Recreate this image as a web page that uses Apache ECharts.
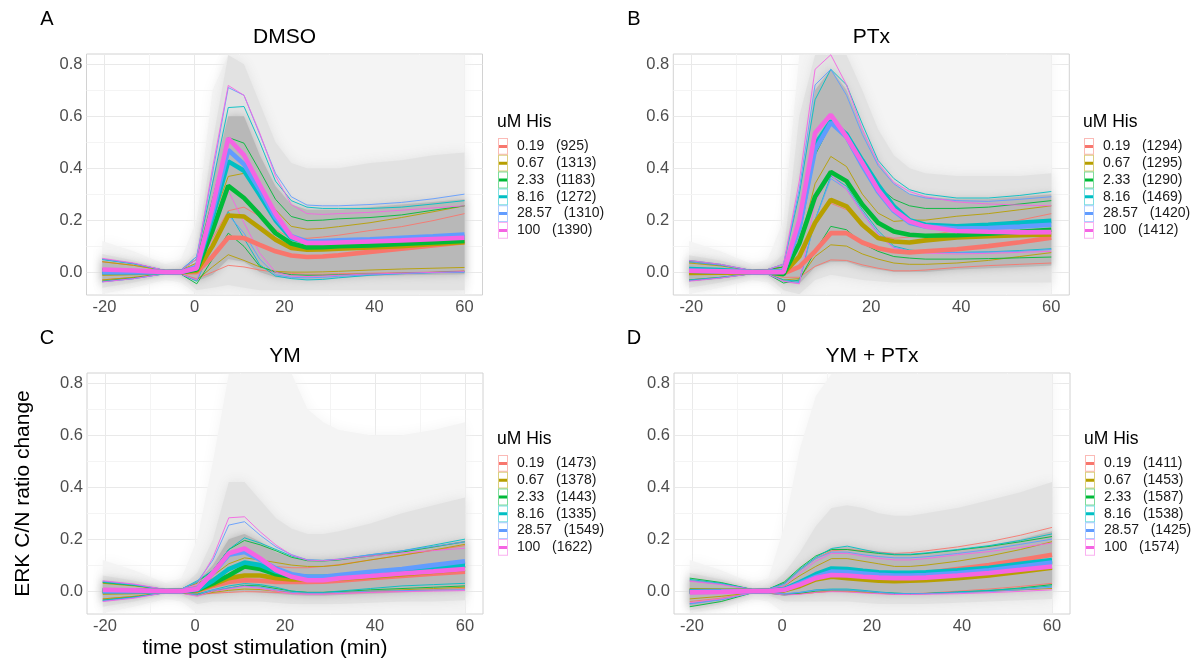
<!DOCTYPE html>
<html><head><meta charset="utf-8">
<script src="https://cdn.jsdelivr.net/npm/echarts@6/dist/echarts.min.js"></script>
<style>html,body{margin:0;padding:0;background:#fff}#c{width:1197px;height:662px}</style>
</head><body><div id="c"></div>
<script>
// ---------- DATA ----------
const T = [-20.5,-13.5,-6.5,-3,0.5,4,7.5,11,14.5,18,21.5,25,28.5,32,39,46,53,60];
const conc = ['0.19','0.67','2.33','8.16','28.57','100'];
const colors = ['#F8766D','#B79F00','#00BA38','#00BFC4','#619CFF','#F564E3'];
const titles = ['DMSO','PTx','YM','YM + PTx'];
const tags = ['A','B','C','D'];
const xTicks = [-20,0,20,40,60];
const yTicks = [0,0.2,0.4,0.6,0.8];
const nA = [925,1313,1183,1272,1310,1390];
const nB = [1294,1295,1290,1469,1420,1412];
const nC = [1473,1378,1443,1335,1549,1622];
const nD = [1411,1453,1587,1538,1425,1574];

const A_med = [
 [0.005,0.003,0,0,0.0,0.06,0.133,0.131,0.105,0.08,0.064,0.058,0.06,0.065,0.078,0.09,0.103,0.115],
 [-0.005,-0.003,0,0,0.005,0.1,0.218,0.214,0.17,0.125,0.093,0.086,0.087,0.09,0.095,0.1,0.108,0.115],
 [0.005,0.003,0,0,0.01,0.16,0.332,0.285,0.22,0.15,0.11,0.095,0.096,0.1,0.103,0.108,0.114,0.12],
 [0,0,0,0,0.015,0.21,0.426,0.39,0.297,0.2,0.13,0.115,0.115,0.117,0.12,0.125,0.13,0.135],
 [0,0,0,0,0.02,0.23,0.47,0.415,0.317,0.21,0.138,0.118,0.12,0.122,0.126,0.132,0.138,0.145],
 [0.01,0.006,0,0,0.015,0.25,0.515,0.45,0.336,0.225,0.137,0.112,0.112,0.114,0.118,0.122,0.127,0.132]];
const A_hi = [
 [0.04,0.026,0.006,0.008,0.02,0.13,0.236,0.25,0.214,0.163,0.13,0.13,0.135,0.142,0.16,0.175,0.198,0.225],
 [0.04,0.026,0.006,0.008,0.035,0.2,0.368,0.38,0.317,0.24,0.176,0.165,0.168,0.175,0.19,0.21,0.232,0.255],
 [0.05,0.033,0.006,0.008,0.05,0.28,0.518,0.496,0.39,0.28,0.214,0.198,0.2,0.205,0.21,0.22,0.238,0.255],
 [0.048,0.032,0.006,0.008,0.06,0.34,0.633,0.637,0.5,0.35,0.275,0.25,0.245,0.245,0.245,0.25,0.262,0.275],
 [0.05,0.033,0.006,0.008,0.06,0.38,0.71,0.68,0.53,0.38,0.29,0.258,0.255,0.255,0.26,0.268,0.282,0.3],
 [0.053,0.035,0.006,0.008,0.05,0.4,0.718,0.68,0.535,0.37,0.26,0.225,0.222,0.225,0.23,0.238,0.247,0.255]];
const A_lo = [
 [-0.03,-0.02,-0.006,-0.008,-0.025,0.0,0.026,0.02,0.008,0.0,-0.005,-0.008,-0.008,-0.006,-0.004,-0.002,0.0,0.005],
 [-0.03,-0.02,-0.006,-0.008,-0.03,0.02,0.067,0.045,0.02,0.003,0.0,0.0,0.001,0.003,0.008,0.012,0.015,0.018],
 [-0.035,-0.023,-0.006,-0.008,-0.045,0.05,0.15,0.099,0.022,0.0,-0.01,-0.012,-0.012,-0.01,-0.007,-0.004,-0.001,0.003],
 [-0.037,-0.025,-0.006,-0.008,-0.035,0.1,0.233,0.13,0.028,-0.015,-0.025,-0.03,-0.028,-0.022,-0.012,-0.006,-0.002,0.0],
 [-0.037,-0.025,-0.006,-0.008,-0.03,0.09,0.22,0.15,0.05,-0.01,-0.02,-0.022,-0.02,-0.016,-0.01,-0.006,-0.002,0.0],
 [-0.038,-0.025,-0.006,-0.008,-0.03,0.14,0.314,0.19,0.073,0.0,-0.015,-0.017,-0.015,-0.012,-0.007,-0.004,-0.001,0.002]];

const B_med = [
 [0,0,0,0,-0.005,0.02,0.08,0.15,0.15,0.114,0.092,0.08,0.076,0.08,0.088,0.1,0.115,0.132],
 [-0.003,-0.002,0,0,-0.005,0.06,0.19,0.278,0.253,0.182,0.131,0.118,0.114,0.122,0.133,0.138,0.142,0.145],
 [0.005,0.003,0,0,-0.008,0.11,0.29,0.385,0.35,0.26,0.19,0.156,0.144,0.14,0.142,0.148,0.155,0.163],
 [0.012,0.008,0,0,0.005,0.17,0.49,0.58,0.53,0.43,0.336,0.253,0.2,0.182,0.176,0.182,0.19,0.197],
 [0.005,0.003,0,0,0.003,0.17,0.47,0.575,0.52,0.41,0.31,0.235,0.19,0.175,0.168,0.17,0.175,0.182],
 [0.005,0.003,0,0,0,0.2,0.535,0.605,0.52,0.42,0.317,0.24,0.195,0.176,0.158,0.155,0.153,0.154]];
const B_hi = [
 [0.04,0.027,0.006,0.01,0.02,0.06,0.2,0.265,0.24,0.18,0.14,0.13,0.135,0.14,0.16,0.18,0.2,0.225],
 [0.035,0.024,0.006,0.01,0.02,0.1,0.34,0.445,0.406,0.3,0.227,0.195,0.2,0.2,0.215,0.225,0.24,0.255],
 [0.04,0.027,0.006,0.01,0.02,0.17,0.45,0.57,0.53,0.42,0.33,0.28,0.255,0.245,0.245,0.25,0.262,0.275],
 [0.045,0.03,0.006,0.01,0.03,0.3,0.663,0.78,0.72,0.57,0.43,0.36,0.317,0.3,0.285,0.285,0.295,0.31],
 [0.04,0.027,0.006,0.01,0.03,0.32,0.72,0.78,0.68,0.53,0.41,0.34,0.3,0.285,0.275,0.272,0.28,0.29],
 [0.045,0.03,0.006,0.01,0.03,0.35,0.78,0.836,0.72,0.55,0.42,0.345,0.31,0.29,0.27,0.262,0.258,0.255]];
const B_lo = [
 [-0.03,-0.02,-0.006,-0.008,-0.02,-0.02,0.022,0.047,0.045,0.028,0.015,0.005,0.005,0.008,0.018,0.025,0.03,0.035],
 [-0.03,-0.02,-0.006,-0.008,-0.03,-0.025,0.06,0.105,0.1,0.07,0.05,0.035,0.03,0.03,0.035,0.045,0.06,0.075],
 [-0.033,-0.022,-0.006,-0.008,-0.042,-0.03,0.08,0.176,0.163,0.11,0.08,0.06,0.054,0.05,0.05,0.052,0.055,0.058],
 [-0.03,-0.02,-0.006,-0.008,-0.03,-0.035,0.2,0.37,0.33,0.24,0.16,0.1,0.085,0.08,0.076,0.078,0.083,0.09],
 [-0.033,-0.022,-0.006,-0.008,-0.035,-0.04,0.2,0.36,0.32,0.23,0.15,0.095,0.082,0.078,0.075,0.077,0.08,0.087],
 [-0.035,-0.023,-0.006,-0.008,-0.035,-0.045,0.27,0.374,0.317,0.227,0.144,0.092,0.08,0.073,0.07,0.072,0.076,0.08]];

const C_med = [
 [0,0,0,0,0,0.02,0.035,0.042,0.04,0.035,0.035,0.035,0.036,0.04,0.05,0.058,0.067,0.075],
 [-0.005,-0.003,0,0,0.003,0.025,0.05,0.06,0.06,0.05,0.045,0.045,0.046,0.048,0.055,0.065,0.075,0.085],
 [0.003,0.002,0,0,0.005,0.03,0.06,0.095,0.085,0.065,0.055,0.05,0.05,0.053,0.063,0.075,0.088,0.1],
 [0,0,0,0,0.005,0.04,0.085,0.11,0.1,0.075,0.06,0.055,0.055,0.058,0.07,0.08,0.09,0.1],
 [0,0,0,0,0.01,0.07,0.14,0.151,0.12,0.087,0.065,0.055,0.055,0.062,0.074,0.085,0.1,0.115],
 [0.005,0.003,0,0,0.008,0.07,0.145,0.164,0.126,0.081,0.055,0.042,0.042,0.049,0.058,0.068,0.076,0.085]];
const C_hi = [
 [0.035,0.023,0.006,0.008,0.02,0.05,0.085,0.1,0.1,0.095,0.09,0.09,0.095,0.102,0.12,0.138,0.157,0.175],
 [0.03,0.02,0.006,0.008,0.03,0.06,0.105,0.128,0.12,0.11,0.1,0.095,0.095,0.1,0.12,0.138,0.158,0.18],
 [0.033,0.022,0.006,0.008,0.035,0.08,0.16,0.195,0.178,0.155,0.13,0.117,0.116,0.12,0.135,0.15,0.17,0.19],
 [0.035,0.023,0.006,0.008,0.04,0.08,0.16,0.205,0.185,0.16,0.135,0.12,0.118,0.122,0.14,0.155,0.177,0.2],
 [0.038,0.025,0.006,0.008,0.035,0.12,0.254,0.267,0.215,0.17,0.14,0.12,0.118,0.123,0.14,0.155,0.172,0.19],
 [0.04,0.027,0.006,0.008,0.025,0.13,0.282,0.286,0.228,0.177,0.138,0.119,0.117,0.122,0.135,0.147,0.156,0.165]];
const C_lo = [
 [-0.03,-0.02,-0.006,-0.008,-0.012,-0.008,-0.005,-0.002,-0.003,-0.005,-0.008,-0.01,-0.01,-0.008,-0.004,0,0.005,0.01],
 [-0.03,-0.02,-0.006,-0.008,-0.015,-0.005,0.003,0.008,0.006,0,-0.003,-0.005,-0.005,-0.003,0,0.005,0.01,0.015],
 [-0.035,-0.023,-0.006,-0.008,-0.012,0,0.012,0.022,0.02,0.01,0,-0.005,-0.005,-0.002,0.005,0.01,0.015,0.02],
 [-0.035,-0.023,-0.006,-0.008,-0.01,0.005,0.02,0.029,0.025,0.015,0,-0.005,-0.005,0,0.01,0.02,0.025,0.03],
 [-0.038,-0.025,-0.006,-0.008,-0.015,0.005,0.012,0.02,0.015,0.005,-0.005,-0.008,-0.008,-0.005,0,0.002,0.004,0.005],
 [-0.04,-0.027,-0.006,-0.008,-0.02,0,0.008,0.018,0.01,0,-0.01,-0.012,-0.012,-0.01,-0.005,-0.002,0,0.002]];

const D_med = [
 [0,0,0,0,0.005,0.03,0.055,0.07,0.07,0.067,0.065,0.065,0.066,0.07,0.085,0.1,0.12,0.14],
 [0,0,0,0,0.003,0.02,0.045,0.055,0.05,0.045,0.04,0.038,0.04,0.042,0.05,0.06,0.075,0.09],
 [0,0,0,0,0.005,0.03,0.06,0.08,0.078,0.072,0.067,0.065,0.065,0.067,0.075,0.085,0.1,0.115],
 [-0.002,-0.001,0,0,0.008,0.035,0.065,0.087,0.085,0.078,0.072,0.07,0.07,0.072,0.08,0.09,0.105,0.12],
 [-0.003,-0.002,0,0,0.005,0.03,0.055,0.075,0.073,0.068,0.063,0.06,0.06,0.062,0.07,0.08,0.095,0.11],
 [-0.005,-0.003,0,0,0.005,0.025,0.05,0.062,0.06,0.055,0.052,0.05,0.05,0.052,0.06,0.07,0.082,0.095]];
const D_hi = [
 [0.04,0.027,0.006,0.008,0.03,0.08,0.125,0.155,0.16,0.155,0.15,0.145,0.148,0.155,0.17,0.19,0.215,0.245],
 [0.01,0.007,0.006,0.008,0.02,0.06,0.095,0.125,0.125,0.115,0.105,0.095,0.095,0.1,0.115,0.135,0.16,0.19],
 [0.05,0.033,0.006,0.008,0.035,0.09,0.135,0.16,0.16,0.152,0.145,0.14,0.14,0.145,0.158,0.172,0.19,0.21],
 [0.045,0.03,0.006,0.008,0.03,0.085,0.13,0.164,0.173,0.16,0.148,0.142,0.142,0.147,0.16,0.175,0.195,0.22],
 [0.04,0.027,0.006,0.008,0.025,0.08,0.125,0.15,0.15,0.14,0.133,0.128,0.128,0.132,0.145,0.16,0.18,0.2],
 [0.038,0.025,0.006,0.008,0.02,0.07,0.115,0.145,0.145,0.135,0.126,0.12,0.12,0.125,0.14,0.152,0.168,0.185]];
const D_lo = [
 [-0.04,-0.027,-0.006,-0.008,-0.01,-0.01,-0.005,0,0,-0.003,-0.006,-0.01,-0.01,-0.008,0,0.008,0.018,0.03],
 [-0.03,-0.02,-0.006,-0.008,-0.012,-0.01,-0.005,0,-0.002,-0.005,-0.008,-0.012,-0.012,-0.01,-0.005,0,0.005,0.01],
 [-0.06,-0.04,-0.006,-0.008,-0.015,-0.008,0,0.005,0.004,0,-0.005,-0.008,-0.01,-0.009,-0.004,0.002,0.012,0.025],
 [-0.048,-0.032,-0.006,-0.008,-0.012,-0.005,0.005,0.008,0.008,0.003,-0.003,-0.008,-0.01,-0.009,-0.003,0.003,0.01,0.02],
 [-0.05,-0.033,-0.006,-0.008,-0.01,-0.005,0.003,0.005,0.004,0,-0.005,-0.01,-0.01,-0.01,-0.006,-0.002,0.005,0.015],
 [-0.045,-0.03,-0.006,-0.008,-0.015,-0.012,-0.005,-0.002,-0.003,-0.007,-0.01,-0.013,-0.013,-0.012,-0.01,-0.006,-0.001,0.005]];

// grey cloud of single-cell traces: envelopes (faint / light / core)
const A_faintHi = [0.12,0.08,0.03,0.05,0.2,0.7,0.835,0.835,0.835,0.835,0.835,0.835,0.835,0.835,0.835,0.835,0.835,0.835];
const A_faintLo = [-0.085,-0.06,-0.03,-0.04,-0.085,-0.085,-0.085,-0.085,-0.085,-0.085,-0.085,-0.085,-0.085,-0.085,-0.085,-0.085,-0.085,-0.085];
const A_lightHi = [0.07,0.045,0.012,0.015,0.08,0.5,0.835,0.8,0.65,0.5,0.42,0.4,0.4,0.4,0.42,0.43,0.45,0.46];
const A_lightLo = [-0.06,-0.04,-0.012,-0.015,-0.07,-0.06,-0.05,-0.06,-0.07,-0.07,-0.07,-0.07,-0.07,-0.07,-0.07,-0.07,-0.07,-0.07];
const A_coreHi = [0.045,0.03,0.006,0.008,0.04,0.35,0.6,0.6,0.45,0.33,0.26,0.24,0.24,0.24,0.25,0.26,0.27,0.28];
const A_coreLo = [-0.035,-0.024,-0.006,-0.008,-0.035,-0.01,0.05,0.04,0.0,-0.02,-0.025,-0.028,-0.026,-0.022,-0.015,-0.012,-0.01,-0.008];

const B_faintHi = [0.12,0.08,0.03,0.05,0.2,0.835,0.835,0.835,0.835,0.835,0.835,0.835,0.835,0.835,0.835,0.835,0.835,0.835];
const B_faintLo = [-0.085,-0.06,-0.03,-0.04,-0.085,-0.085,-0.085,-0.085,-0.085,-0.085,-0.085,-0.085,-0.085,-0.085,-0.085,-0.085,-0.085,-0.085];
const B_lightHi = [0.065,0.045,0.012,0.015,0.07,0.6,0.835,0.835,0.835,0.7,0.55,0.45,0.4,0.38,0.37,0.37,0.37,0.38];
const B_lightLo = [-0.06,-0.04,-0.012,-0.015,-0.07,-0.085,-0.03,-0.01,-0.02,-0.03,-0.035,-0.04,-0.04,-0.04,-0.04,-0.04,-0.04,-0.04];
const B_coreHi = [0.045,0.03,0.006,0.008,0.035,0.3,0.7,0.78,0.7,0.55,0.42,0.34,0.3,0.29,0.28,0.28,0.29,0.3];
const B_coreLo = [-0.035,-0.023,-0.006,-0.008,-0.04,-0.045,0.02,0.04,0.04,0.02,0.01,0,0,0,0.01,0.015,0.02,0.025];

const C_faintHi = [0.12,0.08,0.03,0.05,0.2,0.5,0.835,0.835,0.835,0.835,0.835,0.7,0.65,0.62,0.6,0.6,0.62,0.65];
const C_faintLo = [-0.085,-0.06,-0.03,-0.04,-0.085,-0.085,-0.085,-0.085,-0.085,-0.085,-0.085,-0.085,-0.085,-0.085,-0.085,-0.085,-0.085,-0.085];
const C_lightHi = [0.06,0.04,0.012,0.015,0.07,0.2,0.42,0.42,0.35,0.28,0.24,0.22,0.22,0.23,0.26,0.3,0.33,0.36];
const C_lightLo = [-0.06,-0.04,-0.012,-0.015,-0.05,-0.04,-0.04,-0.04,-0.04,-0.045,-0.05,-0.05,-0.05,-0.05,-0.045,-0.04,-0.04,-0.035];
const C_coreHi = [0.04,0.027,0.006,0.008,0.035,0.1,0.2,0.22,0.19,0.15,0.13,0.12,0.12,0.125,0.14,0.155,0.175,0.195];
const C_coreLo = [-0.035,-0.024,-0.006,-0.008,-0.02,-0.01,-0.005,0,-0.005,-0.01,-0.015,-0.018,-0.018,-0.015,-0.01,-0.005,0,0.005];

const D_faintHi = [0.12,0.08,0.03,0.05,0.25,0.55,0.75,0.835,0.835,0.835,0.835,0.835,0.835,0.835,0.835,0.835,0.835,0.835];
const D_faintLo = [-0.085,-0.065,-0.03,-0.04,-0.085,-0.085,-0.085,-0.085,-0.085,-0.085,-0.085,-0.085,-0.085,-0.085,-0.085,-0.085,-0.085,-0.085];
const D_lightHi = [0.07,0.045,0.012,0.015,0.07,0.15,0.25,0.32,0.33,0.32,0.3,0.29,0.29,0.3,0.32,0.35,0.38,0.42];
const D_lightLo = [-0.075,-0.05,-0.012,-0.015,-0.04,-0.04,-0.04,-0.04,-0.04,-0.045,-0.05,-0.05,-0.05,-0.05,-0.045,-0.04,-0.035,-0.03];
const D_coreHi = [0.05,0.033,0.006,0.008,0.035,0.085,0.13,0.165,0.17,0.16,0.148,0.142,0.142,0.147,0.16,0.175,0.2,0.23];
const D_coreLo = [-0.06,-0.04,-0.006,-0.008,-0.015,-0.01,-0.005,0,-0.002,-0.006,-0.01,-0.013,-0.013,-0.012,-0.008,-0.004,0.003,0.01];

// ---------- LAYOUT / STYLE ----------
const F = '"Liberation Sans", Arial, Helvetica, sans-serif';
const panels = [
  {med:A_med, hi:A_hi, lo:A_lo, n:nA, bands:[[A_faintLo,A_faintHi],[A_lightLo,A_lightHi],[A_coreLo,A_coreHi]]},
  {med:B_med, hi:B_hi, lo:B_lo, n:nB, bands:[[B_faintLo,B_faintHi],[B_lightLo,B_lightHi],[B_coreLo,B_coreHi]]},
  {med:C_med, hi:C_hi, lo:C_lo, n:nC, bands:[[C_faintLo,C_faintHi],[C_lightLo,C_lightHi],[C_coreLo,C_coreHi]]},
  {med:D_med, hi:D_hi, lo:D_lo, n:nD, bands:[[D_faintLo,D_faintHi],[D_lightLo,D_lightHi],[D_coreLo,D_coreHi]]}
];
const bandColors = ['#f4f4f4','#e2e2e2','#b8b8b8'];
const bandBlur = [14, 12, 8];
const gLeft = [86.5, 673.3, 87, 674];
const gTop = [54, 54, 373, 373];
const gW = 396, gH = 241;
const legLeft = [498, 1084, 498, 1085];
const legTop = [138, 138, 455, 455];
const XMIN = -24, XMAX = 64, YMIN = -0.088, YMAX = 0.839;

const grids = [], xAxes = [], yAxes = [], series = [], legends = [], graphics = [];

panels.forEach((p, gi) => {
  grids.push({left:gLeft[gi], top:gTop[gi], width:gW, height:gH, show:true,
    backgroundColor:'#ffffff', borderColor:'#d2d2d2', borderWidth:1, containLabel:false});
  xAxes.push({gridIndex:gi, type:'value', min:XMIN, max:XMAX,
    axisLine:{show:false}, splitLine:{show:false},
    axisTick:{show:true, length:3, lineStyle:{color:'#b3b3b3'}, customValues:xTicks},
    axisLabel:{customValues:xTicks, color:'#4d4d4d', fontSize:16.5, fontFamily:F, margin:4,
      formatter:v=>String(v)}});
  yAxes.push({gridIndex:gi, type:'value', min:YMIN, max:YMAX,
    axisLine:{show:false}, splitLine:{show:false},
    axisTick:{show:true, length:3, lineStyle:{color:'#b3b3b3'}, customValues:yTicks},
    axisLabel:{customValues:yTicks, color:'#4d4d4d', fontSize:16.5, fontFamily:F, margin:4,
      formatter:v=>v.toFixed(1)}});

  // gridlines (major + minor) through the axes' scales
  const major = '#e9e9e9', minor = '#f4f4f4';
  const ml = [];
  xTicks.forEach(v=>ml.push({xAxis:v, lineStyle:{color:major, width:1, type:'solid'}}));
  [-10,10,30,50].forEach(v=>ml.push({xAxis:v, lineStyle:{color:minor, width:1, type:'solid'}}));
  yTicks.forEach(v=>ml.push({yAxis:v, lineStyle:{color:major, width:1, type:'solid'}}));
  [0.1,0.3,0.5,0.7].forEach(v=>ml.push({yAxis:v, lineStyle:{color:minor, width:1, type:'solid'}}));
  series.push({type:'line', xAxisIndex:gi, yAxisIndex:gi, data:[[0,0]], symbol:'none', silent:true,
    lineStyle:{opacity:0}, z:0.5, animation:false,
    markLine:{silent:true, symbol:['none','none'], label:{show:false}, z:0.5, animation:false, data:ml}});

  // grey trace cloud
  p.bands.forEach((b, bi) => {
    const lo = b[0], hi = b[1];
    series.push({type:'custom', xAxisIndex:gi, yAxisIndex:gi, silent:true, z:1+bi*0.01, clip:true,
      animation:false,
      data:T.map((t,k)=>[t, lo[k], hi[k]]), encode:{x:0, y:[1,2]},
      renderItem:(params, api) => {
        if (params.dataIndex !== 0) return null;
        const pts = [];
        for (let k=0;k<T.length;k++) pts.push(api.coord([T[k], hi[k]]));
        for (let k=T.length-1;k>=0;k--) pts.push(api.coord([T[k], lo[k]]));
        return {type:'polygon', shape:{points:pts},
          style:{fill:bandColors[bi], shadowBlur:bandBlur[bi], shadowColor:bandColors[bi]}};
      }});
  });

  const names = conc.map((c,j)=>c+'   ('+p.n[j]+')');
  // quantile lines (thin)
  conc.forEach((c,j)=>{
    [p.lo[j], p.hi[j]].forEach(arr=>{
      series.push({type:'line', name:names[j], xAxisIndex:gi, yAxisIndex:gi,
        data:T.map((t,k)=>[t, arr[k]]), symbol:'none', showSymbol:false, silent:true,
        lineStyle:{color:colors[j], width:0.9}, itemStyle:{color:colors[j]}, z:2, animation:false});
    });
  });
  // medians (thick)
  conc.forEach((c,j)=>{
    series.push({type:'line', name:names[j], xAxisIndex:gi, yAxisIndex:gi,
      data:T.map((t,k)=>[t, p.med[j][k]]), symbol:'none', showSymbol:false, silent:true,
      lineStyle:{color:colors[j], width:4.6}, itemStyle:{color:colors[j]}, z:3+j*0.01, animation:false});
  });

  const legBase = {data:names, left:legLeft[gi], top:legTop[gi], orient:'vertical', padding:0,
    itemGap:0, itemWidth:10, itemHeight:16.8, selectedMode:false, symbolKeepAspect:false};
  legends.push(Object.assign({}, legBase, {
    icon:'path://M0,0H10V16.8H0ZM1,1V15.8H9V1Z',
    itemStyle:{opacity:0.5, borderWidth:0},
    textStyle:{fontSize:14, fontFamily:F, color:'rgba(0,0,0,0)', padding:[0,0,0,4]}}));
  legends.push(Object.assign({}, legBase, {
    icon:'path://M0,0L0.01,0L0.01,0.01ZM10,16.8L9.99,16.8L9.99,16.79ZM1,6.9H9V9.9H1Z',
    itemStyle:{opacity:1, borderWidth:0},
    textStyle:{fontSize:14, fontFamily:F, color:'#1a1a1a', padding:[0,0,0,4]}}));

  // texts
  const cx = gLeft[gi] + gW/2;
  graphics.push({type:'text', x:cx, y:gTop[gi]-17, silent:true,
    style:{text:titles[gi], fontSize:21, fontFamily:F, fill:'#000', align:'center', verticalAlign:'middle'}});
  graphics.push({type:'text', x:(gi%2===0?47:634), y:gTop[gi]-35, silent:true,
    style:{text:tags[gi], fontSize:20, fontFamily:F, fill:'#000', align:'center', verticalAlign:'middle'}});
  graphics.push({type:'text', x:legLeft[gi]-1, y:legTop[gi]-16, silent:true,
    style:{text:'uM His', fontSize:17.5, fontFamily:F, fill:'#000', align:'left', verticalAlign:'middle'}});
});

graphics.push({type:'text', x:23, y:493.5, rotation:Math.PI/2, silent:true,
  style:{text:'ERK C/N ratio change', fontSize:21, fontFamily:F, fill:'#000', align:'center', verticalAlign:'middle'}});
graphics.push({type:'text', x:265, y:648, silent:true,
  style:{text:'time post stimulation (min)', fontSize:21, fontFamily:F, fill:'#000', align:'center', verticalAlign:'middle'}});

const chart = echarts.init(document.getElementById('c'), null, {renderer:'canvas'});
chart.setOption({
  backgroundColor:'#ffffff',
  animation:false,
  grid:grids, xAxis:xAxes, yAxis:yAxes, series:series, legend:legends, graphic:graphics
});
</script></body></html>
